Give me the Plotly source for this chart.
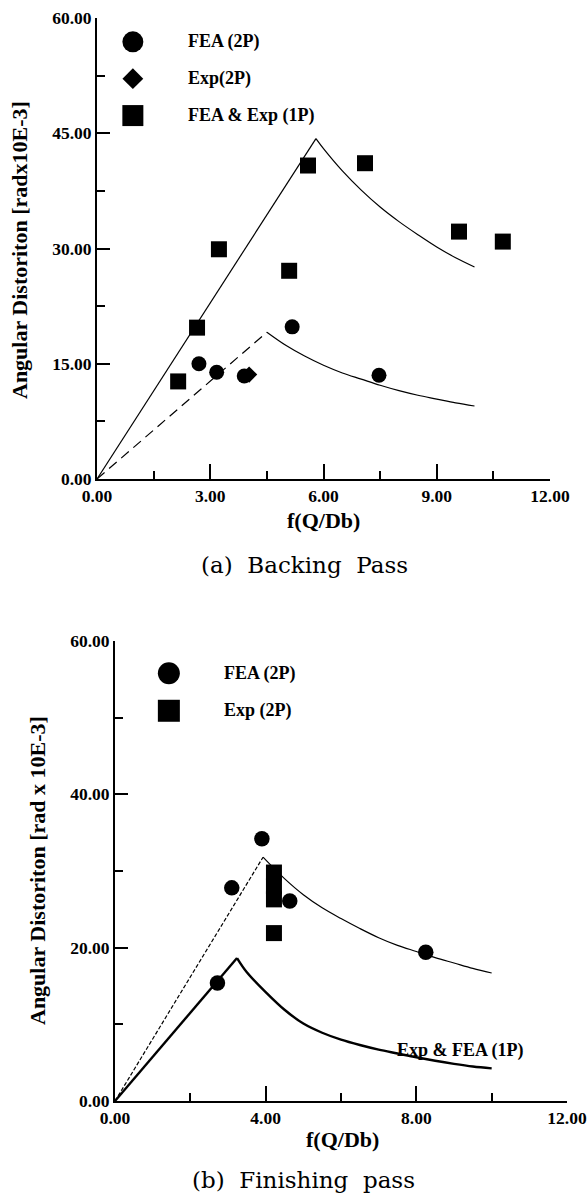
import plotly.graph_objects as go

W, H = 588, 1202

# ---------------- data: (a) Backing pass ----------------
a_fea2p_x = [2.70, 3.17, 3.90, 5.17, 7.47]
a_fea2p_y = [15.0, 13.9, 13.4, 19.8, 13.5]
a_exp2p_x = [4.03]
a_exp2p_y = [13.6]
a_1p_x = [2.15, 2.65, 3.23, 5.09, 5.59, 7.10, 9.59, 10.75]
a_1p_y = [12.7, 19.7, 29.9, 27.1, 40.8, 41.1, 32.2, 30.9]

a_c1_rise_x = [0.0, 5.8]
a_c1_rise_y = [0.0, 44.3]
a_c1_decay_x = [5.8, 6.0, 6.5, 7.0, 7.5, 8.0, 8.5, 9.0, 9.5, 10.0]
a_c1_decay_y = [44.3, 43.0, 40.1, 37.6, 35.4, 33.5, 31.8, 30.2, 28.8, 27.6]
a_c2_rise_x = [0.0, 4.5]
a_c2_rise_y = [0.0, 19.1]
a_c2_decay_x = [4.5, 5.0, 5.5, 6.0, 6.5, 7.0, 7.5, 8.0, 8.5, 9.0, 9.5, 10.0]
a_c2_decay_y = [19.1, 17.4, 16.0, 14.8, 13.8, 13.0, 12.2, 11.5, 10.9, 10.4, 9.9, 9.5]

a_xticks = [0, 3, 6, 9, 12]
a_yticks = [0, 15, 30, 45, 60]

# ---------------- data: (b) Finishing pass ----------------
b_fea2p_x = [2.72, 3.10, 3.90, 4.64, 8.25]
b_fea2p_y = [15.4, 27.8, 34.2, 26.1, 19.4]
b_exp2p_x = [4.22, 4.22, 4.22, 4.22]
b_exp2p_y = [29.8, 28.0, 26.3, 21.9]

b_c2_rise_x = [0.0, 3.93]
b_c2_rise_y = [0.0, 31.8]
b_c2_decay_x = [3.93, 4.5, 5.0, 5.5, 6.0, 6.5, 7.0, 7.5, 8.0, 8.5, 9.0, 9.5, 10.0]
b_c2_decay_y = [31.8, 29.0, 26.9, 25.2, 23.8, 22.5, 21.3, 20.3, 19.5, 18.7, 18.0, 17.3, 16.7]
b_c1_rise_x = [0.0, 3.24]
b_c1_rise_y = [0.0, 18.65]
b_c1_decay_x = [3.24, 3.5, 4.0, 4.5, 5.0, 5.5, 6.0, 6.5, 7.0, 7.5, 8.0, 8.5, 9.0, 9.5, 10.0]
b_c1_decay_y = [18.65, 16.8, 14.2, 11.9, 10.1, 8.9, 8.0, 7.3, 6.7, 6.2, 5.7, 5.25, 4.85, 4.5, 4.25]

b_xticks = [0, 4, 8, 12]
b_yticks = [0, 20, 40, 60]

BOLD = "Liberation Serif"
CAP = "DejaVu Serif"


def px(x):
    return x / W


def py(y):
    return 1 - y / H


fig = go.Figure()


def line(xs, ys, ax, width=1.2, dash="solid", shape="linear"):
    fig.add_trace(go.Scatter(x=xs, y=ys, mode="lines", xaxis=ax[0], yaxis=ax[1],
                             line=dict(color="black", width=width, dash=dash, shape=shape),
                             showlegend=False, hoverinfo="skip"))


def pts(xs, ys, ax, symbol, size):
    fig.add_trace(go.Scatter(x=xs, y=ys, mode="markers", xaxis=ax[0], yaxis=ax[1],
                             marker=dict(symbol=symbol, size=size, color="black",
                                         line=dict(width=0)),
                             showlegend=False, cliponaxis=False))


A = ("x", "y")
B = ("x2", "y2")

# (a) curves
line(a_c1_rise_x, a_c1_rise_y, A)
line(a_c1_decay_x, a_c1_decay_y, A, shape="spline")
line(a_c2_rise_x, a_c2_rise_y, A, dash="10px,6px")
line(a_c2_decay_x, a_c2_decay_y, A, shape="spline")
# (a) points
pts(a_1p_x, a_1p_y, A, "square", 16)
pts(a_fea2p_x, a_fea2p_y, A, "circle", 15)
pts(a_exp2p_x, a_exp2p_y, A, "diamond", 12.5)
# (a) legend markers
pts([0.95], [56.9], A, "circle", 21)
pts([0.95], [52.1], A, "diamond", 16)
pts([0.95], [47.3], A, "square", 21)

# (b) curves
line(b_c2_rise_x, b_c2_rise_y, B, dash="4px,2px")
line(b_c2_decay_x, b_c2_decay_y, B, shape="spline")
line(b_c1_rise_x, b_c1_rise_y, B, width=2.4)
line(b_c1_decay_x, b_c1_decay_y, B, width=2.4, shape="spline")
# (b) points
pts(b_exp2p_x, b_exp2p_y, B, "square", 16)
pts(b_fea2p_x, b_fea2p_y, B, "circle", 15.5)
# (b) legend markers
pts([1.43], [55.8], B, "circle", 22)
pts([1.43], [50.9], B, "square", 22)

tickfont = dict(family=BOLD, size=17.5, color="black", weight="bold")


def xaxis(domain, anchor, ticks, minor, standoff):
    return dict(domain=domain, anchor=anchor, range=[0, 12], tickvals=ticks,
                tickformat=".2f", ticks="inside", ticklen=15, tickwidth=1.5,
                tickcolor="black", showline=True, linecolor="black", linewidth=2,
                showgrid=False, zeroline=False, tickfont=tickfont,
                ticklabelstandoff=standoff, automargin=False,
                minor=dict(tickvals=minor, ticks="inside", ticklen=8, tickwidth=1.5,
                           tickcolor="black", showgrid=False))


def yaxis(domain, anchor, ticks, minor, standoff):
    return dict(domain=domain, anchor=anchor, range=[0, 60], tickvals=ticks,
                tickformat=".2f", ticks="inside", ticklen=13, tickwidth=1.5,
                tickcolor="black", showline=True, linecolor="black", linewidth=2,
                showgrid=False, zeroline=False, tickfont=tickfont,
                ticklabelstandoff=standoff, automargin=False,
                minor=dict(tickvals=minor, ticks="inside", ticklen=8, tickwidth=1.5,
                           tickcolor="black", showgrid=False))


fig.update_layout(
    template="none",
    width=W, height=H, margin=dict(l=0, r=0, t=0, b=0),
    paper_bgcolor="white", plot_bgcolor="white", showlegend=False,
    xaxis=xaxis([px(97), px(550)], "y", a_xticks, [1.5, 4.5, 7.5, 10.5], 0),
    yaxis=yaxis([py(479), py(18)], "x", a_yticks, [7.5, 22.5, 37.5, 52.5], 0),
    xaxis2=xaxis([px(115), px(567)], "y2", b_xticks, [2, 6, 10], 0),
    yaxis2=yaxis([py(1101), py(641)], "x2", b_yticks, [10, 30, 50], 0),
)

ann = []


def text(s, x, y, size, family=BOLD, xref="paper", yref="paper", xanchor="center",
         angle=0):
    ann.append(dict(text=s, x=x, y=y, xref=xref, yref=yref, showarrow=False,
                    xanchor=xanchor, yanchor="middle", textangle=angle,
                    font=dict(family=family, size=size, color="black")))


# legend texts (a)
text("<b>FEA (2P)</b>", 2.36, 56.9, 18, xref="x", yref="y", xanchor="left")
text("<b>Exp(2P)</b>", 2.36, 52.1, 18, xref="x", yref="y", xanchor="left")
text("<b>FEA &amp; Exp (1P)</b>", 2.36, 47.3, 18, xref="x", yref="y", xanchor="left")
# legend texts (b)
text("<b>FEA (2P)</b>", 2.84, 55.8, 18, xref="x2", yref="y2", xanchor="left")
text("<b>Exp (2P)</b>", 2.84, 50.9, 18, xref="x2", yref="y2", xanchor="left")
text("<b>Exp &amp; FEA (1P)</b>", 9.18, 6.65, 18, xref="x2", yref="y2")

# axis titles
text("<b>Angular Distoriton [radx10E-3]</b>", px(19), py(250), 22, angle=-90)
text("<b>f(Q/Db)</b>", px(324), py(520), 22)
text("<b>Angular Distoriton [rad x 10E-3]</b>", px(37), py(871), 22, angle=-90)
text("<b>f(Q/Db)</b>", px(342), py(1139), 22)

# captions
text("(a)  Backing  Pass", px(304), py(565), 23, family=CAP)
text("(b)  Finishing  pass", px(303), py(1180), 23, family=CAP)

fig.update_layout(annotations=ann)

# remove the default page margin so the figure fills the window exactly
fig.write_html("out.html", config={"displayModeBar": False},
               post_script="document.body.style.margin='0';"
               "document.documentElement.style.overflow='hidden';")
